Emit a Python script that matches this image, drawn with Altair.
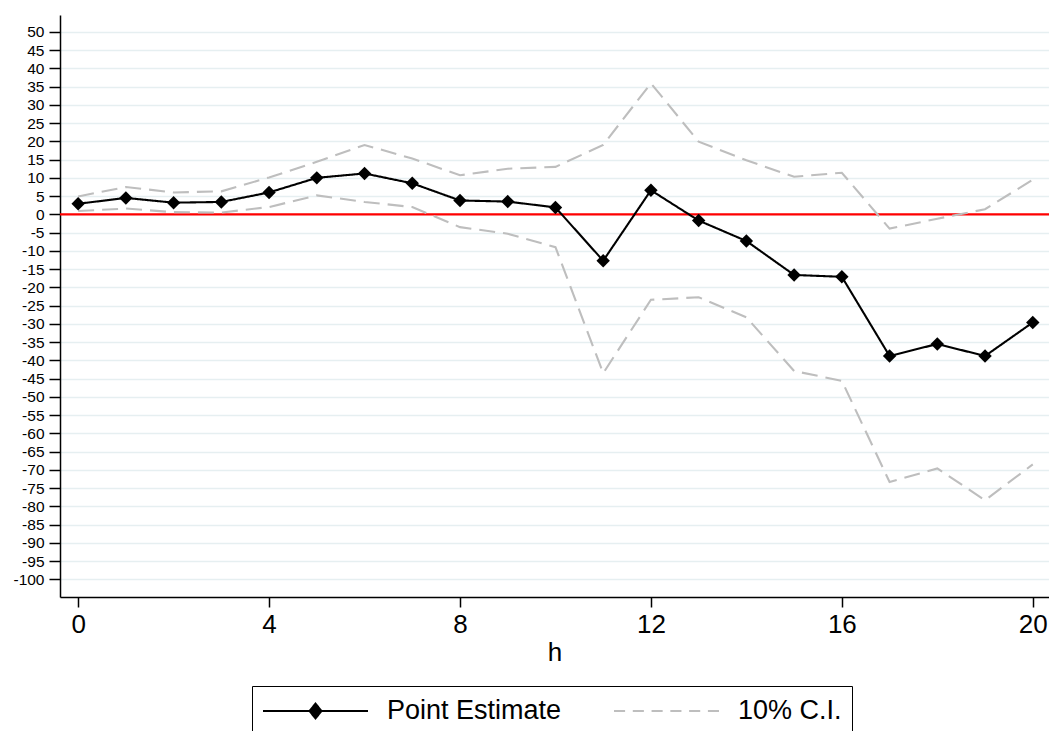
import altair as alt
import pandas as pd

# Horizon and estimated responses
h = list(range(21))
estimate = [2.9, 4.5, 3.2, 3.4, 6.0, 10.0, 11.2, 8.5, 3.8, 3.5, 1.9,
            -12.7, 6.6, -1.7, -7.3, -16.6, -17.1, -38.8, -35.5, -38.8, -29.6]
ci_upper = [4.9, 7.5, 6.0, 6.3, 10.1, 14.4, 19.0, 15.3, 10.7, 12.5, 13.0,
            19.0, 35.9, 19.9, 14.8, 10.3, 11.4, -3.9, -1.2, 1.4, 9.5]
ci_lower = [0.9, 1.6, 0.6, 0.5, 2.0, 5.2, 3.4, 2.0, -3.5, -5.3, -9.0,
            -43.5, -23.4, -22.7, -28.2, -42.9, -45.6, -73.3, -69.6, -78.3, -68.5]

y_ticks = list(range(-100, 55, 5))
x_ticks = [0, 4, 8, 12, 16, 20]

PE = "Point Estimate"
CI = "10% C.I."
SERIES = [PE, CI]

rows = []
for hi, v in zip(h, ci_upper):
    rows.append({"h": hi, "value": v, "series": CI, "bound": "upper"})
for hi, v in zip(h, ci_lower):
    rows.append({"h": hi, "value": v, "series": CI, "bound": "lower"})
for hi, v in zip(h, estimate):
    rows.append({"h": hi, "value": v, "series": PE, "bound": "estimate"})
df = pd.DataFrame(rows)
df_est = df[df["series"] == PE]
zero_df = pd.DataFrame({"value": [0]})
# no rows: this layer only carries the legend
legend_df = pd.DataFrame({"series": pd.Series([], dtype=str)})

FONT = "Liberation Sans"

x_enc = alt.X(
    "h:Q",
    scale=alt.Scale(domain=[-0.38, 20.34], nice=False, zero=False),
    axis=alt.Axis(values=x_ticks, title="h", grid=False,
                  labelExpr="'' + datum.value",
                  labelFontSize=26, titleFontSize=26, tickSize=10,
                  labelPadding=4, titlePadding=2, labelFlush=False,
                  labelOverlap=False),
)
y_enc = alt.Y(
    "value:Q",
    scale=alt.Scale(domain=[-104.8, 54.6], nice=False, zero=False),
    axis=alt.Axis(values=y_ticks, title=None, grid=True,
                  labelExpr="'' + datum.value",
                  labelFontSize=15.5, tickSize=11, labelPadding=5,
                  labelOverlap=False, labelFlush=False),
)

stroke_scale = alt.Scale(domain=SERIES, range=["black", "#bebebe"])

# legend keys: a solid line with a diamond, and a line broken into six dashes
pe_shape = "M-1,0H1M0,-0.14L0.115,0L0,0.14L-0.115,0Z"
dash_starts = [-1.0, -0.6423, -0.2846, 0.0731, 0.4308, 0.7885]
ci_shape = "".join(f"M{s:.4f},0H{s + 0.2115:.4f}" for s in dash_starts)

legend = alt.Legend(
    title=None,
    orient="none",
    legendX=192,
    legendY=671,
    direction="horizontal",
    columns=2,
    symbolSize=11025,
    symbolStrokeWidth=2,
    symbolFillColor="black",
    symbolStrokeColor="black",
    clipHeight=30,
    labelFont=FONT,
    labelFontSize=27,
    labelColor="black",
    labelOffset=18,
    labelLimit=400,
    columnPadding=51,
    padding=10,
    strokeColor="black",
    fillColor="white",
    cornerRadius=0,
)

legend_layer = alt.Chart(legend_df).mark_point(
    opacity=1, strokeWidth=2, filled=False
).encode(
    stroke=alt.Stroke("series:N", scale=stroke_scale, legend=legend),
    fill=alt.Fill("series:N",
                  scale=alt.Scale(domain=SERIES, range=["black", "transparent"]),
                  legend=legend),
    shape=alt.Shape("series:N",
                    scale=alt.Scale(domain=SERIES, range=[pe_shape, ci_shape]),
                    legend=legend),
)

zero_line = alt.Chart(zero_df).mark_rule(color="#ff0000", strokeWidth=2.4).encode(
    y=y_enc
)

lines = alt.Chart(df).mark_line(strokeWidth=2.1).encode(
    x=x_enc,
    y=y_enc,
    stroke=alt.Stroke("series:N", scale=stroke_scale, legend=legend),
    strokeDash=alt.StrokeDash("series:N",
                              scale=alt.Scale(domain=SERIES, range=[[1, 0], [16, 8]]),
                              legend=None),
    detail="bound:N",
)

points = alt.Chart(df_est).mark_point(
    shape="diamond", filled=True, color="black", size=180, opacity=1
).encode(x=x_enc, y=y_enc)

chart = (
    alt.layer(legend_layer, zero_line, lines, points)
    .properties(
        width=989,
        height=582,
        autosize=alt.AutoSizeParams(type="none"),
        padding={"left": 60, "top": 15, "right": 0, "bottom": 134},
        background="white",
    )
    .configure_axis(
        domainColor="black",
        domainWidth=1.5,
        tickColor="black",
        tickWidth=1.5,
        labelColor="black",
        titleColor="black",
        labelFont=FONT,
        titleFont=FONT,
        titleFontWeight="normal",
        gridColor="#e6eff1",
        gridWidth=1.5,
    )
    .configure_view(stroke=None)
)

chart.save("out.html", embed_options={"renderer": "svg", "actions": False})
